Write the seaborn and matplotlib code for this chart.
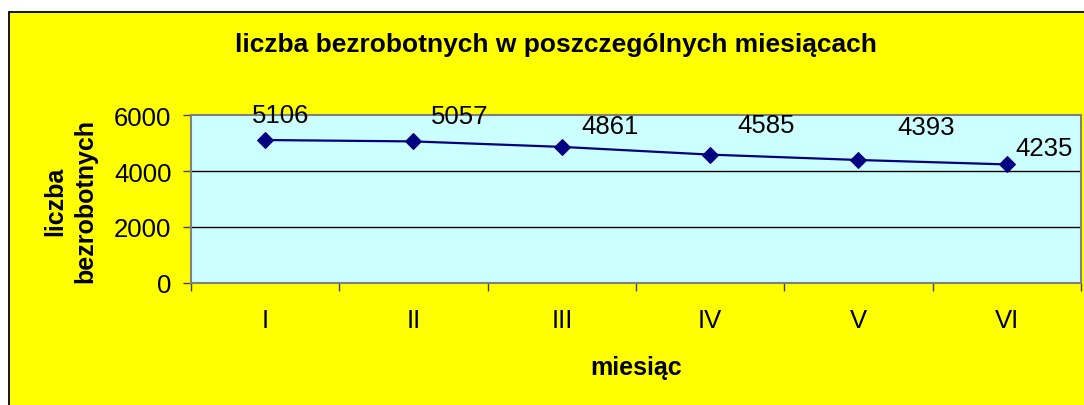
import matplotlib
matplotlib.use("Agg")
import matplotlib.pyplot as plt
from matplotlib.patches import Rectangle
import seaborn as sns
import pandas as pd

# ---- data ----
months = ["I", "II", "III", "IV", "V", "VI"]
unemployed = [5106, 5057, 4861, 4585, 4393, 4235]
y_ticks = [0, 2000, 4000, 6000]
title = "liczba bezrobotnych w poszczególnych miesiącach"
x_label = "miesiąc"
y_label = "liczba\nbezrobotnych"

# label offsets (points) for data labels, styling only
label_offsets = [(11, 18), (33, 18), (35, 15), (40, 21), (49, 24), (27, 12)]

sns.set_style("white")
plt.rcParams["font.family"] = ["Liberation Sans", "DejaVu Sans"]
plt.rcParams["text.color"] = "black"
plt.rcParams["xtick.color"] = "black"
plt.rcParams["ytick.color"] = "black"
plt.rcParams["xtick.labelcolor"] = "black"
plt.rcParams["ytick.labelcolor"] = "black"

df = pd.DataFrame({"miesiac": months, "liczba": unemployed})

fig = plt.figure(figsize=(10.84, 4.06), dpi=100)
fig.patch.set_facecolor("white")
# yellow chart area with black border
fig.patches.append(Rectangle((9 / 1084, -0.1), 1.2, (406 - 12.5) / 406 + 0.1,
                             transform=fig.transFigure, facecolor="#FFFF00",
                             edgecolor="black", linewidth=1.3, zorder=-10))

ax = fig.add_axes([191 / 1084, 122 / 406, 890 / 1084, 168 / 406])
ax.set_zorder(1)
ax.set_facecolor("#CCFFFF")

sns.lineplot(data=df, x="miesiac", y="liczba", sort=False, ax=ax,
             color="#000080", linewidth=1.6, marker="D", markersize=8,
             markeredgecolor="#000080", markerfacecolor="#000080", zorder=5)

for i, (m, v) in enumerate(zip(months, unemployed)):
    dx, dy = label_offsets[i]
    ax.annotate(str(v), (i, v), xytext=(dx, dy), textcoords="offset points",
                ha="center", va="center", fontsize=18.5, color="black", zorder=6)

ax.set_xlim(-0.5, len(months) - 0.5)
ax.set_ylim(0, 6000)
ax.set_yticks(y_ticks)
ax.set_yticklabels([str(t) for t in y_ticks], fontsize=18.5)
ax.set_xticks(range(len(months)))
ax.set_xticklabels(months, fontsize=18.5)
ax.set_xticks([i - 0.5 for i in range(len(months) + 1)], minor=True)

ax.tick_params(axis="x", which="major", length=0, pad=18)
ax.tick_params(axis="x", which="minor", length=6, width=1, color="#404040",
               direction="out", bottom=True)
ax.tick_params(axis="y", which="major", length=6, width=1, color="#404040",
               direction="out", left=True, pad=8)

for yv in y_ticks[1:-1]:
    ax.axhline(yv, color="black", linewidth=1, zorder=1)

for s in ax.spines.values():
    s.set_color("#808080")
    s.set_linewidth(1.5)

ax.set_xlabel("")
ax.set_ylabel("")

fig.text(555.5 / 1084, (406 - 45) / 406, title, ha="center", va="center",
         fontsize=19, fontweight="bold", color="black")
fig.text(636 / 1084, (406 - 368) / 406, x_label, ha="center", va="center",
         fontsize=18, fontweight="bold", color="black")
fig.text(70 / 1084, (406 - 201) / 406, y_label, ha="center", va="center",
         rotation=90, fontsize=18, fontweight="bold", linespacing=1.3,
         color="black")

fig.savefig("out.png", dpi=100)
